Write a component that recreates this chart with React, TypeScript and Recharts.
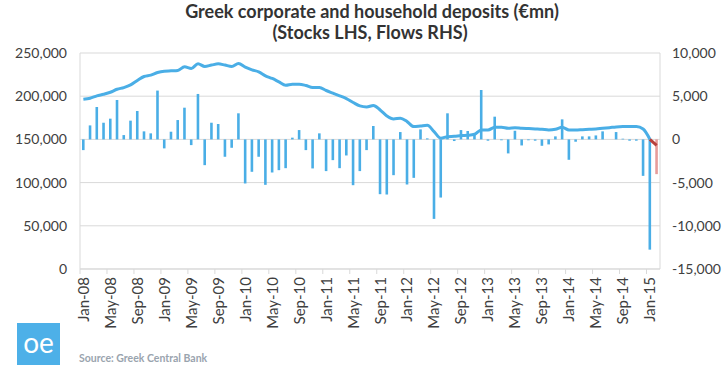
import { ComposedChart, Bar, Line, XAxis, YAxis, CartesianGrid, Cell } from 'recharts'

const BLUE = '#4aaee6'
const RED_LINE = '#b8403c'
const RED_BAR = '#e79c9a'
const GRID = '#d9d9d9'
const FONT = 'Lato, "Open Sans", sans-serif'

const months = [
  'Jan-08', 'Feb-08', 'Mar-08', 'Apr-08', 'May-08', 'Jun-08', 'Jul-08', 'Aug-08', 'Sep-08', 'Oct-08', 'Nov-08', 'Dec-08',
  'Jan-09', 'Feb-09', 'Mar-09', 'Apr-09', 'May-09', 'Jun-09', 'Jul-09', 'Aug-09', 'Sep-09', 'Oct-09', 'Nov-09', 'Dec-09',
  'Jan-10', 'Feb-10', 'Mar-10', 'Apr-10', 'May-10', 'Jun-10', 'Jul-10', 'Aug-10', 'Sep-10', 'Oct-10', 'Nov-10', 'Dec-10',
  'Jan-11', 'Feb-11', 'Mar-11', 'Apr-11', 'May-11', 'Jun-11', 'Jul-11', 'Aug-11', 'Sep-11', 'Oct-11', 'Nov-11', 'Dec-11',
  'Jan-12', 'Feb-12', 'Mar-12', 'Apr-12', 'May-12', 'Jun-12', 'Jul-12', 'Aug-12', 'Sep-12', 'Oct-12', 'Nov-12', 'Dec-12',
  'Jan-13', 'Feb-13', 'Mar-13', 'Apr-13', 'May-13', 'Jun-13', 'Jul-13', 'Aug-13', 'Sep-13', 'Oct-13', 'Nov-13', 'Dec-13',
  'Jan-14', 'Feb-14', 'Mar-14', 'Apr-14', 'May-14', 'Jun-14', 'Jul-14', 'Aug-14', 'Sep-14', 'Oct-14', 'Nov-14', 'Dec-14',
  'Jan-15', 'Feb-15',
]

// deposit stocks, €mn (LHS)
const stocks = [
  196500, 197700, 200400, 202300, 204600, 208000, 210000, 213100, 218200, 222800, 224400, 227500,
  229000, 229400, 229800, 234000, 232100, 237500, 234400, 236000, 237500, 236000, 234400, 237900,
  233600, 230500, 228200, 223600, 220500, 216600, 212800, 213900, 213900, 212400, 210100, 210100,
  206600, 203500, 200400, 197300, 192700, 188800, 187600, 189200, 184100, 177200, 173700, 174500,
  170600, 164800, 165600, 166400, 159000, 151300, 153200, 153600, 154400, 154800, 155900, 160900,
  160900, 164000, 164000, 162900, 163600, 162900, 162500, 162100, 161700, 160900, 161700, 164000,
  160900, 160900, 161300, 161700, 162100, 162900, 163600, 164400, 164800, 164800, 164800, 162000,
  150100, 143200,
]

// monthly flows, €mn (RHS)
const flows = [
  -1240, 1620, 3750, 1930, 2400, 4560, 500, 2170, 3290, 930, 700, 5650,
  -1040, 890, 2240, 3670, -660, 5260, -2980, 1930, 1780, -2010, -970, 3020,
  -5100, -3750, -2010, -5260, -3830, -3560, -3330, 200, 1080, -1240, -3360, 700,
  -3670, -2400, -3330, -1860, -5300, -3670, -1240, 1550, -6340, -6380, -4140, 850,
  -5220, -4450, 1160, 120, -9200, -6730, 3020, -190, 1080, 970, 700, 5720,
  -150, 2630, -100, -1620, 1000, -700, -100, -150, -740, -580, 350, 2320,
  -2360, -270, 350, 350, 460, 930, 0, 850, 80, -150, -150, -4220,
  -12760, -4020,
]

// the last month is shown in red (estimate)
const estimateMonths = ['Jan-15', 'Feb-15']

const leftTicks = [0, 50000, 100000, 150000, 200000, 250000]
const rightTicks = [-15000, -10000, -5000, 0, 5000, 10000]

const lastMonth = months[months.length - 1]
const data = months.map((m, i) => ({
  month: m,
  stock: m === lastMonth ? null : stocks[i],
  stockEst: estimateMonths.includes(m) ? stocks[i] : null,
  flow: flows[i],
}))

const W = 726
const H = 371
const PLOT_LEFT = 80
const PLOT_RIGHT = 660
const BAND = (PLOT_RIGHT - PLOT_LEFT) / months.length

const fmt = (v: number) => v.toLocaleString('en-US')

function MonthTick(props: any) {
  const { x, y, payload } = props
  const bx = x - BAND / 2
  return (
    <g>
      <line x1={bx} y1={y} x2={bx} y2={y + 5} stroke={GRID} />
      <text
        x={x}
        y={y + 8}
        transform={`rotate(-90, ${x}, ${y + 8})`}
        textAnchor="end"
        dy="0.36em"
        fill="#404040"
        fontSize={15}
        fontFamily={FONT}
      >
        {payload.value}
      </text>
    </g>
  )
}

export default function App() {
  return (
    <div style={{ position: 'absolute', left: 0, top: 0, width: W, height: H, background: '#fff', fontFamily: FONT }}>
      <div
        style={{
          position: 'absolute',
          left: 0,
          width: W,
          top: 1,
          textAlign: 'center',
          fontWeight: 700,
          fontSize: 18,
          lineHeight: '21px',
          color: '#333',
        }}
      >
        <div style={{ paddingLeft: 18 }}>Greek corporate and household deposits (€mn)</div>
        <div style={{ paddingLeft: 14 }}>(Stocks LHS, Flows RHS)</div>
      </div>
      <ComposedChart
        width={W}
        height={H}
        data={data}
        margin={{ top: 53, right: 0, bottom: 0, left: 0 }}
        barSize={2.6}
      >
        <CartesianGrid yAxisId="left" vertical={false} stroke={GRID} />
        <XAxis
          dataKey="month"
          interval={3}
          tick={<MonthTick />}
          tickLine={false}
          tickSize={0}
          tickMargin={0}
          axisLine={{ stroke: GRID }}
          height={102}
        />
        <YAxis
          yAxisId="left"
          domain={[0, 250000]}
          ticks={leftTicks}
          tickFormatter={fmt}
          width={80}
          tickLine={false}
          tickSize={0}
          tickMargin={13}
          axisLine={{ stroke: GRID }}
          tick={{ fontSize: 14, fill: '#404040', fontFamily: FONT }}
        />
        <YAxis
          yAxisId="right"
          orientation="right"
          domain={[-15000, 10000]}
          ticks={rightTicks}
          tickFormatter={fmt}
          width={66}
          tickLine={false}
          tickSize={0}
          tickMargin={12}
          axisLine={{ stroke: GRID }}
          tick={{ fontSize: 14, fill: '#404040', fontFamily: FONT }}
        />
        <Bar yAxisId="right" dataKey="flow" isAnimationActive={false}>
          {data.map((d) => (
            <Cell key={d.month} fill={d.month === lastMonth ? RED_BAR : BLUE} />
          ))}
        </Bar>
        <Line
          yAxisId="left"
          type="monotone"
          dataKey="stock"
          stroke={BLUE}
          strokeWidth={3}
          dot={false}
          isAnimationActive={false}
        />
        <Line
          yAxisId="left"
          type="monotone"
          dataKey="stockEst"
          stroke={RED_LINE}
          strokeWidth={3}
          dot={false}
          isAnimationActive={false}
        />
      </ComposedChart>
      <div
        style={{
          position: 'absolute',
          left: 17,
          top: 323,
          width: 43,
          height: 42,
          background: '#4db0e8',
          color: '#fff',
          fontSize: 28,
          lineHeight: '38px',
          textAlign: 'center',
          fontFamily: FONT,
        }}
      >
        oe
      </div>
      <div
        style={{
          position: 'absolute',
          left: 79,
          top: 352,
          fontSize: 10.5,
          color: '#9aa4ae',
          fontWeight: 700,
        }}
      >
        Source: Greek Central Bank
      </div>
    </div>
  )
}
